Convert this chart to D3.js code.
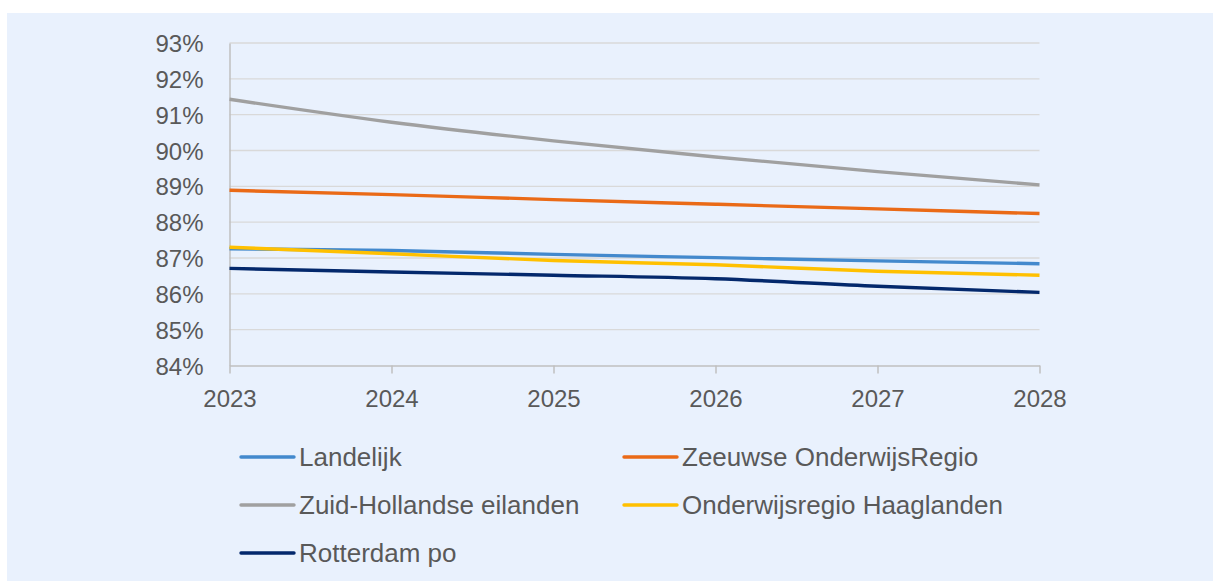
<!DOCTYPE html>
<html>
<head>
<meta charset="utf-8">
<title>line chart</title>
<script src="https://cdn.jsdelivr.net/npm/d3@7"></script>
<style>
  html, body {margin:0;padding:0;background:#ffffff;}
  svg {display:block;}
  text {font-family:"Liberation Sans", Arial, sans-serif; fill:#595959;}
</style>
</head>
<body>
<svg id="chart" width="1213" height="581"></svg>
<script>
// data (percentages)
var years = [2023, 2024, 2025, 2026, 2027, 2028];
var yTicks = [84, 85, 86, 87, 88, 89, 90, 91, 92, 93];

var seriesNames = ["Landelijk", "Zeeuwse OnderwijsRegio", "Zuid-Hollandse eilanden", "Onderwijsregio Haaglanden", "Rotterdam po"];
var seriesColors = ["#4389cd", "#ea6a17", "#a0a0a0", "#ffc000", "#03286c"];

var landelijk  = [87.26, 87.21, 87.10, 87.01, 86.92, 86.84];
var zeeuwse    = [88.89, 88.77, 88.63, 88.50, 88.37, 88.24];
var zuidHoll   = [91.43, 90.79, 90.27, 89.82, 89.41, 89.04];
var haaglanden = [87.30, 87.12, 86.93, 86.81, 86.63, 86.52];
var rotterdam  = [86.71, 86.61, 86.52, 86.42, 86.21, 86.04];

var seriesValues = [landelijk, zeeuwse, zuidHoll, haaglanden, rotterdam];
// draw order: gray first, then orange, blue, yellow, navy on top
var drawOrder = [2, 1, 0, 3, 4];

var svg = d3.select("#chart");

// panel background
svg.append("rect").attr("x", 7).attr("y", 13).attr("width", 1206).attr("height", 568).attr("fill", "#e9f1fd");

var x = d3.scaleLinear().domain([2023, 2028]).range([229.5, 1039.5]);
var y = d3.scaleLinear().domain([84, 93]).range([365.5, 43]);

// gridlines
svg.append("g").selectAll("line").data(yTicks.slice(1)).enter().append("line")
  .attr("x1", x(2023)).attr("x2", x(2028))
  .attr("y1", function(d){return y(d)}).attr("y2", function(d){return y(d)})
  .attr("stroke", "#d9d9d9").attr("stroke-width", 1.3);

// y axis
var yAxis = svg.append("g").attr("transform", "translate(" + x(2023) + ",0)")
  .call(d3.axisLeft(y).tickValues(yTicks).tickSize(0).tickPadding(26).tickFormat(function(d){return d + "%"}));
yAxis.select(".domain").attr("stroke", "#bfbfbf").attr("stroke-width", 1.5);
yAxis.selectAll("text").attr("font-size", 24).attr("font-family", null).attr("fill", "#595959").attr("dy", "0.36em");

// x axis
var xAxis = svg.append("g").attr("transform", "translate(0," + y(84) + ")")
  .call(d3.axisBottom(x).tickValues(years).tickSize(8).tickPadding(16).tickSizeOuter(0).tickFormat(d3.format("d")));
xAxis.select(".domain").attr("stroke", "#bfbfbf").attr("stroke-width", 1.5);
xAxis.selectAll(".tick line").attr("stroke", "#bfbfbf").attr("stroke-width", 1.5);
xAxis.selectAll("text").attr("font-size", 24).attr("font-family", null).attr("fill", "#595959");

// lines
var line = d3.line()
  .x(function(d, i){return x(years[i])})
  .y(function(d){return y(d)})
  .curve(d3.curveMonotoneX);

svg.append("g").selectAll("path").data(drawOrder).enter().append("path")
  .attr("d", function(k){return line(seriesValues[k])})
  .attr("fill", "none")
  .attr("stroke", function(k){return seriesColors[k]})
  .attr("stroke-width", 3.4)
  .attr("stroke-linejoin", "round");

// legend
var legendPos = [
  {x: 241, y: 457}, {x: 624, y: 457},
  {x: 241, y: 505}, {x: 624, y: 505},
  {x: 241, y: 553}
];
var leg = svg.append("g").selectAll("g").data(seriesNames).enter().append("g")
  .attr("transform", function(d, i){return "translate(" + legendPos[i].x + "," + legendPos[i].y + ")"});
leg.append("line").attr("x1", 0).attr("x2", 53).attr("y1", 0).attr("y2", 0)
  .attr("stroke", function(d, i){return seriesColors[i]})
  .attr("stroke-width", 3.4).attr("stroke-linecap", "round");
leg.append("text").attr("x", 58).attr("y", 0).attr("dy", "0.36em")
  .attr("font-size", 26).text(function(d){return d});
</script>
</body>
</html>
